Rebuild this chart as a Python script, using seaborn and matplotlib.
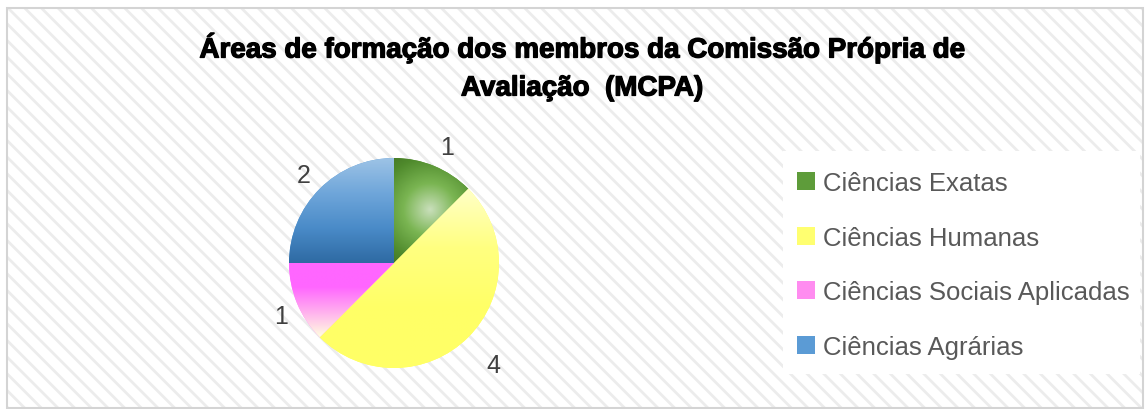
import numpy as np
import matplotlib
matplotlib.use('Agg')
import matplotlib.pyplot as plt
import matplotlib.patheffects as pe
import seaborn as sns
from matplotlib.colors import LinearSegmentedColormap
from matplotlib.patches import Rectangle

# data
categories = ['Ciências Exatas', 'Ciências Humanas', 'Ciências Sociais Aplicadas', 'Ciências Agrárias']
values = [1, 4, 1, 2]
title = 'Áreas de formação dos membros da Comissão Própria de\nAvaliação  (MCPA)'

sns.set_theme(style='white')
plt.rcParams['font.family'] = ['Liberation Sans', 'DejaVu Sans']
plt.rcParams['hatch.linewidth'] = 2.0

base_colors = ['#5e9c3a', '#ffff66', '#ff80ff', '#5b9bd5']
grads = [
    ('radial', ['#c9dfbb', '#7ab552', '#4f8a2c', '#3a6420']),
    ('linear', ['#ffffc8', '#ffff80', '#ffff66', '#ffff66']),
    ('linear', ['#ff66ff', '#ff66ff', '#ffb0ee', '#ffffe0']),
    ('linear', ['#9dc3e6', '#6fa6da', '#4a8bc8', '#2e6aa3']),
]
label_dist = [1.25, 1.30, 1.20, 1.26]

W, H = 1146, 410
fig = plt.figure(figsize=(W / 100, H / 100), dpi=100)
fig.patch.set_facecolor('white')

# hatched chart area + border
fig.add_artist(Rectangle((7 / W, 1 / H), (1143 - 7) / W, (401 - 1) / H, transform=fig.transFigure,
                         facecolor='white', edgecolor='#ececec', hatch='\\\\', lw=0, zorder=0))
fig.add_artist(Rectangle((7 / W, 1 / H), (1143 - 7) / W, (401 - 1) / H, transform=fig.transFigure,
                         facecolor='none', edgecolor='#d4d4d4', lw=1.5, zorder=1))
# white legend box
fig.add_artist(Rectangle((783 / W, (H - 375) / H), (1140 - 783) / W, (375 - 152) / H,
                         transform=fig.transFigure, facecolor='white', edgecolor='none', zorder=1))

cx, cy, r = 394, 264, 105
half = 1.25 * r
ax = fig.add_axes([(cx - half) / W, (H - cy - half) / H, 2 * half / W, 2 * half / H])
ax.set_xlim(-1.25, 1.25)
ax.set_ylim(-1.25, 1.25)
ax.axis('off')
ax.patch.set_alpha(0)

wedges, texts = ax.pie(values, colors=base_colors, startangle=90, counterclock=False,
                       labels=[str(v) for v in values], labeldistance=1.27,
                       wedgeprops=dict(linewidth=0),
                       textprops=dict(color='#404040', fontsize=18))

for w, t, d in zip(wedges, texts, label_dist):
    mid = np.deg2rad((w.theta1 + w.theta2) / 2)
    t.set_position((d * np.cos(mid) + 0.03, d * np.sin(mid) - 0.05))
    t.set_ha('center')
    t.set_va('center')

for w, (kind, cols) in zip(wedges, grads):
    ext = w.get_path().get_extents()
    x0, y0, x1, y1 = ext.x0, ext.y0, ext.x1, ext.y1
    cmap = LinearSegmentedColormap.from_list('g', cols)
    if kind == 'linear':
        img = np.linspace(0, 1, 256).reshape(-1, 1)
    else:
        xs = np.linspace(x0, x1, 200)
        ys = np.linspace(y1, y0, 200)
        X, Y = np.meshgrid(xs, ys)
        img = np.clip(np.hypot(X - 0.34, Y - 0.51) / 0.75, 0, 1)
    im = ax.imshow(img, extent=(x0, x1, y0, y1), origin='upper', cmap=cmap, vmin=0, vmax=1,
                   aspect='auto', interpolation='bilinear', zorder=2)
    im.set_clip_path(w)
ax.set_xlim(-1.25, 1.25)
ax.set_ylim(-1.25, 1.25)

handles = [Rectangle((0, 0), 1, 1, facecolor=c, edgecolor='none') for c in
           ['#5e9c3a', '#ffff70', '#ff8cf0', '#5b9bd5']]
fig.legend(handles, categories, loc='upper left', bbox_to_anchor=(797 / W, (H - 172) / H),
           frameon=False, fontsize=18.5, labelcolor='#595959', handlelength=0.7, handleheight=0.7,
           handletextpad=0.3, labelspacing=1.19, borderaxespad=0, borderpad=0)

fig.text(582 / W, (H - 34) / H, title, ha='center', va='top', fontsize=20, fontweight='bold',
         color='black', linespacing=1.6,
         path_effects=[pe.withStroke(linewidth=0.9, foreground='black')])

fig.savefig('out.png', dpi=100, facecolor='white')
